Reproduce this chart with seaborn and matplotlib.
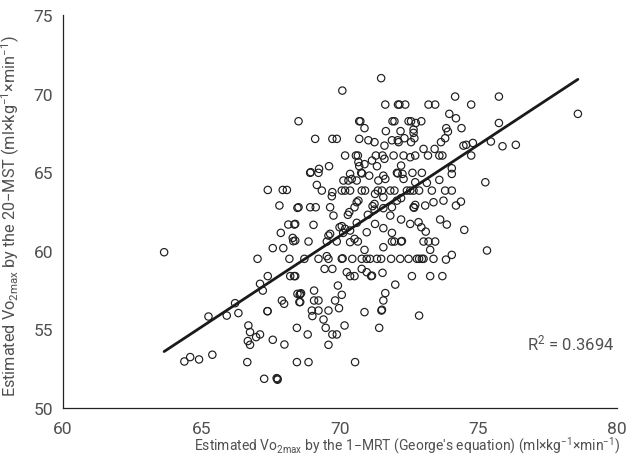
import numpy as np
import pandas as pd
import matplotlib
matplotlib.use("Agg")
import matplotlib.pyplot as plt
import seaborn as sns

# VO2max estimated by the 1-MRT (George's equation), x axis
mrt_vo2 = [
    71.49, 70.09, 71.64, 72.10, 72.15, 72.36, 73.20, 73.44,
    68.51, 70.70, 70.74, 71.90, 71.97, 72.48, 72.57, 72.74, 72.94, 73.95,
    70.89, 71.66, 72.19, 72.66, 72.66, 73.84, 73.90,
    69.11, 69.73, 69.89, 70.70, 71.03, 71.25, 71.61, 71.88, 72.09, 72.12, 72.33, 72.57, 72.69, 73.65, 73.80,
    70.19, 70.58, 70.65, 71.30, 71.54, 71.94, 72.30, 72.54, 72.72, 73.02, 73.42, 73.59, 73.70, 73.18,
    74.16, 74.74, 75.74, 74.19, 74.39, 75.74, 74.46, 74.56, 74.80, 75.45, 75.87, 76.35, 74.74, 74.04, 78.59,
    74.04, 75.25, 74.04, 74.37, 74.19, 74.49, 75.31, 74.04,
    67.40, 67.94, 68.09, 67.82, 68.47, 68.14, 68.36, 67.87, 68.30, 68.32, 63.66, 67.58, 67.96, 67.03, 68.18,
    67.40, 68.21, 68.35, 67.12,
    67.22, 66.22, 65.26, 65.92, 66.34, 67.39, 67.39, 67.91, 67.99, 68.47, 68.54, 66.70, 66.76, 67.12, 66.98,
    66.68, 66.76, 67.58, 68.00, 68.45, 64.60, 64.39, 64.92, 65.40, 66.66, 68.45, 67.27, 67.75, 67.75, 67.72,
    68.57, 68.60, 68.55, 68.57, 69.07, 69.07, 69.23, 69.93, 70.07, 69.83, 72.00, 71.64, 71.57, 71.52, 71.50,
    68.99, 69.23, 69.01, 69.59, 69.97, 70.89, 72.86, 69.41, 69.49, 70.17, 71.42, 68.84, 69.73, 69.89, 69.59,
    68.87, 70.55,
    68.93, 68.95, 69.23, 70.37, 70.77, 70.80, 71.06, 71.57, 72.06, 72.09, 72.26, 72.62, 72.96,
    70.13, 70.31, 70.43, 70.61, 71.39, 71.64, 72.30, 72.72, 73.14, 73.59, 69.17,
    69.35, 69.73, 69.71, 70.07, 70.19, 70.37, 70.79, 70.91, 71.27, 71.37, 71.52, 71.82, 71.97, 72.42, 72.54,
    72.66, 72.86, 73.32, 73.80,
    70.67, 70.61, 71.25, 71.57, 72.06, 72.21, 72.72, 73.08, 73.38, 73.74,
    68.51, 68.93, 69.13, 69.65, 70.53, 70.34, 71.18, 71.25, 71.57, 71.88, 72.66, 72.68,
    69.77, 70.29, 71.01, 71.82,
    68.39, 69.05, 70.61, 71.27, 72.21, 72.54, 72.84, 72.94, 73.62, 73.86,
    70.07, 70.19, 70.37, 70.97, 71.57, 73.10, 71.88, 69.59, 69.65, 70.53, 69.99, 70.12,
    68.39, 68.87, 69.53, 69.89, 70.37, 70.65, 71.88, 71.97, 72.21, 72.24, 73.02, 73.20, 73.44,
    70.89, 71.57, 73.26,
    68.72, 69.23, 69.53, 69.59, 70.07, 70.10, 70.45, 70.79, 70.97, 71.09, 71.34, 71.49, 71.85, 72.18, 72.48,
    72.78, 72.86, 72.96, 73.02, 73.38, 73.83,
    69.45, 69.73, 70.79, 70.25, 70.37, 70.53, 71.13, 71.16, 70.97, 71.54, 68.39, 72.60, 73.26, 73.70,
    69.25, 69.61, 70.67, 70.70, 70.89, 71.16, 71.34, 71.61, 72.21,
]

# VO2max estimated by the 20-MST, y axis (same order)
mst_vo2 = [
    70.98, 70.19, 69.30, 69.30, 69.30, 69.30, 69.30, 69.30,
    68.24, 68.24, 68.24, 68.24, 68.24, 68.24, 68.24, 68.13, 68.24, 68.71,
    67.80, 67.61, 67.61, 67.71, 67.50, 67.80, 67.58,
    67.12, 67.12, 67.12, 67.12, 67.03, 66.91, 66.69, 67.03, 67.03, 66.91, 67.16, 66.91, 67.16, 66.91, 67.16,
    66.06, 66.06, 66.06, 66.06, 66.06, 66.06, 66.06, 65.95, 66.06, 66.48, 66.48, 66.06, 66.06, 66.06,
    69.81, 69.30, 69.81, 68.43, 67.80, 68.13, 66.69, 66.74, 66.86, 66.95, 66.65, 66.74, 66.06, 65.25, 68.71,
    64.89, 64.36, 63.83, 63.13, 62.88, 61.33, 60.02, 59.74,
    63.87, 63.87, 63.87, 62.88, 62.73, 61.67, 61.67, 61.14, 60.82, 60.61, 59.91, 60.17, 60.17, 59.49, 59.49,
    58.39, 58.39, 58.39, 57.90,
    57.47, 56.67, 55.82, 55.88, 56.04, 56.16, 56.16, 56.84, 56.63, 57.26, 56.74, 55.25, 54.83, 54.68, 54.51,
    54.26, 54.02, 54.34, 54.04, 55.10, 53.24, 52.96, 53.09, 53.39, 52.92, 52.92, 51.86, 51.86, 51.80, 51.90,
    57.26, 57.30, 57.20, 56.74, 57.47, 56.84, 56.84, 57.79, 57.20, 56.84, 57.85, 57.31, 56.84, 56.25, 56.20,
    56.20, 56.20, 55.85, 56.20, 56.35, 56.10, 55.88, 55.63, 55.10, 55.25, 55.10, 54.68, 54.68, 54.68, 54.02,
    52.92, 52.92,
    64.96, 65.00, 64.96, 64.89, 64.96, 64.92, 64.78, 64.78, 64.96, 64.92, 64.89, 64.96, 64.96,
    64.47, 64.47, 64.57, 64.47, 64.47, 64.57, 64.57, 64.36, 64.32, 64.51, 64.19,
    63.83, 63.73, 63.47, 63.83, 63.83, 63.83, 63.83, 63.83, 63.62, 63.83, 63.83, 63.83, 63.83, 63.83, 63.83,
    63.83, 63.83, 63.83, 63.83,
    63.19, 63.09, 62.98, 63.41, 63.19, 63.35, 62.92, 62.88, 63.09, 63.19,
    62.77, 62.77, 62.77, 62.77, 62.77, 62.46, 62.84, 62.62, 62.71, 62.77, 62.77, 62.74,
    62.24, 62.29, 62.29, 62.24,
    61.71, 61.65, 61.78, 61.71, 61.99, 61.71, 61.82, 61.50, 61.99, 61.67,
    61.57, 61.40, 61.29, 61.18, 61.44, 61.22, 61.14, 60.97, 61.08, 60.76, 61.50, 61.14,
    60.65, 60.59, 60.59, 60.59, 60.55, 60.59, 60.59, 60.59, 60.59, 60.62, 60.59, 60.59, 60.59,
    60.06, 60.23, 60.06,
    59.49, 59.49, 59.66, 59.49, 59.49, 59.52, 59.49, 59.49, 59.49, 59.49, 59.49, 59.49, 59.49, 59.49, 59.49,
    59.49, 59.49, 59.49, 59.49, 59.49, 59.44,
    58.85, 58.85, 58.85, 58.64, 58.39, 58.39, 58.39, 58.42, 58.64, 58.60, 58.39, 58.39, 58.39, 58.39,
    65.21, 65.38, 65.64, 65.38, 65.51, 65.74, 65.38, 65.85, 65.42,
]

# fitted line as printed on the chart
fit_slope = 1.1595
fit_intercept = -20.22
r2_label = "R$^2$ = 0.3694"
x_ticks = [60, 65, 70, 75, 80]
y_ticks = [50, 55, 60, 65, 70, 75]

df = pd.DataFrame({"mrt": mrt_vo2, "mst": mst_vo2})
fit = pd.DataFrame({"mrt": [df.mrt.min(), df.mrt.max()]})
fit["mst"] = fit_intercept + fit_slope * fit.mrt

sns.set_style("white")
plt.rcParams["font.family"] = ["Roboto", "DejaVu Sans"]
plt.rcParams["mathtext.fontset"] = "custom"
plt.rcParams["mathtext.rm"] = "Roboto"
plt.rcParams["mathtext.default"] = "regular"
text_col = "#505050"

fig, ax = plt.subplots(figsize=(6.27, 4.56), dpi=100)
fig.subplots_adjust(left=0.1, right=0.984, top=0.965, bottom=0.103)

sns.scatterplot(data=df, x="mrt", y="mst", ax=ax, marker="o", s=28,
                facecolors="none", edgecolor="#1e1e1e", linewidth=0.85)
sns.lineplot(data=fit, x="mrt", y="mst", ax=ax, color="#1a1a1a", lw=2)

ax.set_xlim(60, 80)
ax.set_ylim(50, 75)
ax.set_xticks(x_ticks)
ax.set_yticks(y_ticks)
ax.tick_params(axis="both", labelsize=12.5, colors=text_col, length=4, width=0.8)
ax.tick_params(axis="x", length=3, pad=6)
ax.tick_params(axis="y", pad=3)
for s in ["top", "right"]:
    ax.spines[s].set_visible(False)
for s in ["left", "bottom"]:
    ax.spines[s].set_color("#222222")
    ax.spines[s].set_linewidth(0.9)

ax.set_xlabel("Estimated Vo$_{2max}$ by the 1\u2212MRT (George's equation) (ml\u00d7kg$^{-1}$\u00d7min$^{-1}$)",
              fontsize=10, color=text_col, ha="right", va="baseline")
ax.xaxis.set_label_coords(1.006, -0.105)
ax.set_ylabel("Estimated Vo$_{2max}$ by the 20\u2212MST (ml\u00d7kg$^{-1}$\u00d7min$^{-1}$)",
              fontsize=11.7, color=text_col)
ax.yaxis.set_label_coords(-0.074, 0.49)

ax.text(79.9, 54.2, r2_label, ha="right", va="center", fontsize=12, color=text_col)

fig.savefig("out.png", dpi=100)
